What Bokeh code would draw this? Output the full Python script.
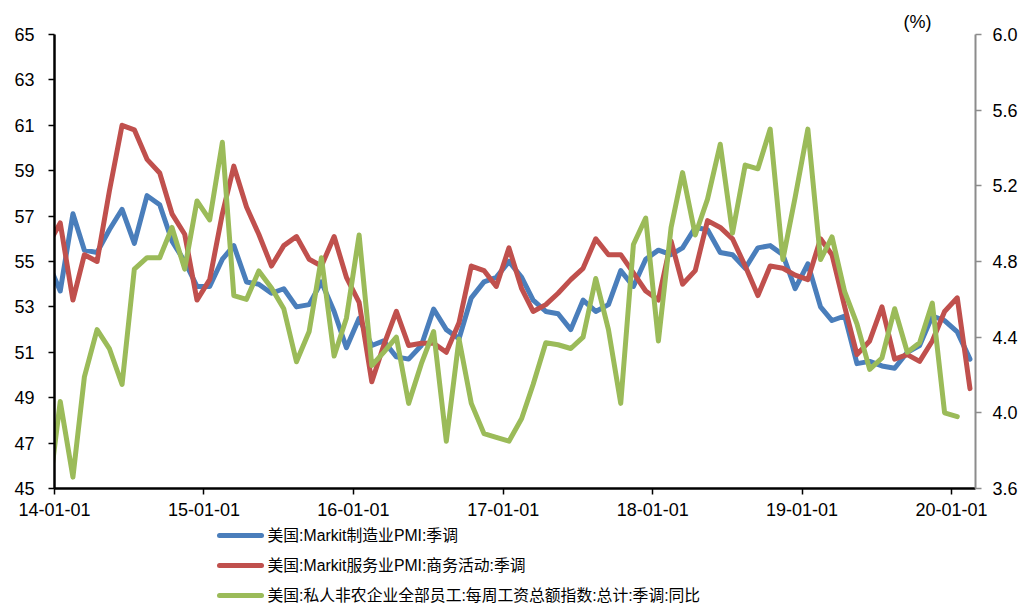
import calendar

from bokeh.core.properties import value
from bokeh.embed import file_html
from bokeh.layouts import column
from bokeh.models import FixedTicker, LinearAxis, Range1d
from bokeh.plotting import figure
from bokeh.resources import INLINE

# Monthly observations, Dec 2013 .. Feb 2020 (wage series ends Jan 2020)
start_year, start_month, n_months = 2013, 12, 75

manufacturing_pmi = [
    55.0,
    53.7, 57.1, 55.5, 55.4, 56.4, 57.3, 55.8, 57.9, 57.5, 55.9, 55.0, 53.9,
    53.9, 55.1, 55.7, 54.1, 54.0, 53.6, 53.8, 53.0, 53.1, 54.1, 52.8, 51.2,
    52.5, 51.3, 51.5, 50.8, 50.7, 51.3, 52.9, 52.0, 51.6, 53.4, 54.1, 54.3,
    55.0, 54.3, 53.3, 52.8, 52.7, 52.0, 53.3, 52.8, 53.1, 54.6, 53.9, 55.1,
    55.5, 55.3, 55.6, 56.5, 56.4, 55.4, 55.3, 54.7, 55.6, 55.7, 55.3, 53.8,
    54.9, 53.0, 52.4, 52.6, 50.5, 50.6, 50.4, 50.3, 51.0, 51.3, 52.6, 52.4,
    51.9, 50.7,
]

services_pmi = [
    55.7,
    56.7, 53.3, 55.3, 55.0, 58.1, 61.0, 60.8, 59.5, 58.9, 57.1, 56.2, 53.3,
    54.2, 57.1, 59.2, 57.4, 56.2, 54.8, 55.7, 56.1, 55.1, 54.8, 56.1, 54.3,
    53.2, 49.7, 51.3, 52.8, 51.3, 51.4, 51.4, 51.0, 52.3, 54.8, 54.6, 53.9,
    55.6, 53.8, 52.8, 53.1, 53.6, 54.2, 54.7, 56.0, 55.3, 55.3, 54.5, 53.7,
    53.3, 55.9, 54.0, 54.6, 56.8, 56.5, 56.0, 54.8, 53.5, 54.8, 54.7, 54.4,
    54.2, 56.0, 55.3, 53.0, 50.9, 51.5, 53.0, 50.7, 50.9, 50.6, 51.5, 52.8,
    53.4, 49.4,
]

payroll_yoy = [
    3.52,
    4.06, 3.66, 4.19, 4.44, 4.34, 4.15, 4.76, 4.82, 4.82, 4.98, 4.76, 5.12,
    5.02, 5.43, 4.62, 4.60, 4.75, 4.66, 4.55, 4.27, 4.43, 4.82, 4.30, 4.50,
    4.94, 4.25, 4.32, 4.40, 4.05, 4.26, 4.43, 3.85, 4.39, 4.05, 3.89, 3.87,
    3.85, 3.97, 4.15, 4.37, 4.36, 4.34, 4.40, 4.71, 4.44, 4.05, 4.89, 5.03,
    4.38, 4.98, 5.27, 4.94, 5.13, 5.42, 4.95, 5.31, 5.29, 5.50, 4.81, 5.14,
    5.50, 4.81, 4.93, 4.64, 4.47, 4.23, 4.29, 4.55, 4.32, 4.37, 4.58, 4.00,
    3.98,
]

series_names = [
    "美国:Markit制造业PMI:季调",
    "美国:Markit服务业PMI:商务活动:季调",
    "美国:私人非农企业全部员工:每周工资总额指数:总计:季调:同比",
]
series_colors = ["#4a7ebb", "#c0504d", "#9bbb59"]

tick_years = [2014, 2015, 2016, 2017, 2018, 2019, 2020]
tick_labels = ["14-01-01", "15-01-01", "16-01-01", "17-01-01",
               "18-01-01", "19-01-01", "20-01-01"]
left_ticks = [45, 47, 49, 51, 53, 55, 57, 59, 61, 63, 65]
right_ticks = [3.6, 4.0, 4.4, 4.8, 5.2, 5.6, 6.0]
unit_text = "(%)"


def ms(y, m, d=1, h=0):
    return calendar.timegm((y, m, d, h, 0, 0)) * 1000.0


# each monthly value sits mid-month on the time axis
dates = []
y, m = start_year, start_month
for _ in range(n_months):
    dates.append(ms(y, m, 15))
    m += 1
    if m > 12:
        y, m = y + 1, 1

FONT = "Liberation Sans, Noto Sans CJK SC"
W = 1023
CHART_H, LEGEND_H = 523, 80
BORDER_L, BORDER_R = 54, 48

p = figure(
    width=W, height=CHART_H,
    output_backend="svg", toolbar_location=None,
    x_range=Range1d(ms(2014, 1, 1), ms(2020, 2, 28, 12)),
    y_range=Range1d(45, 65),
    min_border_left=BORDER_L, min_border_right=BORDER_R,
    min_border_top=34, min_border_bottom=35,
)
p.outline_line_color = None
p.xgrid.visible = False
p.ygrid.visible = False
p.background_fill_color = "white"
p.border_fill_color = "white"

# unit marker for the right-hand axis, sitting above the plot area
p.title.text = unit_text
p.title.align = "right"
p.title.offset = 44
p.title.standoff = 6
p.title.text_font = FONT
p.title.text_font_size = "18px"
p.title.text_font_style = "normal"
p.title.text_color = "black"

p.extra_y_ranges = {"right": Range1d(3.6, 6.0)}

# bottom time axis
xa = p.xaxis[0]
xticks = [ms(yr, 1, 1) for yr in tick_years]
xa.ticker = FixedTicker(ticks=xticks)
xa.major_label_overrides = {t: lab for t, lab in zip(xticks, tick_labels)}
xa.axis_line_color = "black"
xa.axis_line_width = 2.5
xa.major_tick_line_color = "black"
xa.major_tick_line_width = 1.5
xa.major_tick_out = 6
xa.major_tick_in = 0
xa.minor_tick_line_color = None
xa.major_label_standoff = 8
xa.major_label_text_font = FONT
xa.major_label_text_font_size = "18px"
xa.major_label_text_color = "black"

# left PMI axis
ya = p.yaxis[0]
ya.ticker = FixedTicker(ticks=left_ticks)
ya.axis_line_color = "black"
ya.axis_line_width = 2.5
ya.major_tick_line_color = "black"
ya.major_tick_line_width = 1.5
ya.major_tick_out = 6
ya.major_tick_in = 0
ya.minor_tick_line_color = None
ya.major_label_standoff = 14
ya.major_label_text_font = FONT
ya.major_label_text_font_size = "18px"
ya.major_label_text_color = "black"

# right percentage axis
ra = LinearAxis(y_range_name="right")
ra.ticker = FixedTicker(ticks=right_ticks)
ra.major_label_overrides = {v: f"{v:.1f}" for v in right_ticks}
ra.axis_line_color = "#8c8c8c"
ra.axis_line_width = 2
ra.major_tick_line_color = "#8c8c8c"
ra.major_tick_line_width = 1.5
ra.major_tick_out = 6
ra.major_tick_in = 0
ra.minor_tick_line_color = None
ra.major_label_standoff = 11
ra.major_label_text_font = FONT
ra.major_label_text_font_size = "18px"
ra.major_label_text_color = "black"
p.add_layout(ra, "right")

# draw order: manufacturing, services, then the secondary-axis wage series on top
line_kw = dict(line_width=5, line_join="round", line_cap="round")
p.line(dates[:len(manufacturing_pmi)], manufacturing_pmi,
       line_color=series_colors[0], **line_kw)
p.line(dates[:len(services_pmi)], services_pmi,
       line_color=series_colors[1], **line_kw)
p.line(dates[:len(payroll_yoy)], payroll_yoy, y_range_name="right",
       line_color=series_colors[2], **line_kw)

# legend strip underneath the chart; its frame spans the same columns as the
# chart's, and its ranges are in page pixels (y grows downward)
lf = figure(
    width=W, height=LEGEND_H,
    output_backend="svg", toolbar_location=None,
    x_range=Range1d(BORDER_L, W - BORDER_R), y_range=Range1d(LEGEND_H, 0),
    x_axis_location=None, y_axis_location=None,
    min_border_left=BORDER_L, min_border_right=BORDER_R,
    min_border_top=0, min_border_bottom=0,
)
lf.outline_line_color = None
lf.grid.visible = False
lf.border_fill_color = "white"
lf.background_fill_color = "white"

KEY_X, KEY_LEN, KEY_GAP = 219, 42, 6
ROW_TOP, ROW_PITCH = 12, 30
rows = [ROW_TOP + i * ROW_PITCH for i in range(len(series_names))]

lf.segment(
    x0=[KEY_X] * len(rows), x1=[KEY_X + KEY_LEN] * len(rows),
    y0=rows, y1=rows,
    line_color=series_colors, line_width=5, line_cap="round",
)
lf.text(
    x=[KEY_X + KEY_LEN + KEY_GAP] * len(rows), y=rows, text=series_names,
    text_font=value(FONT), text_font_size="15.8px", text_color="black",
    text_align="left", text_baseline="middle",
)

page = column(p, lf, spacing=0)
open("out.html", "w").write(file_html(page, INLINE))
